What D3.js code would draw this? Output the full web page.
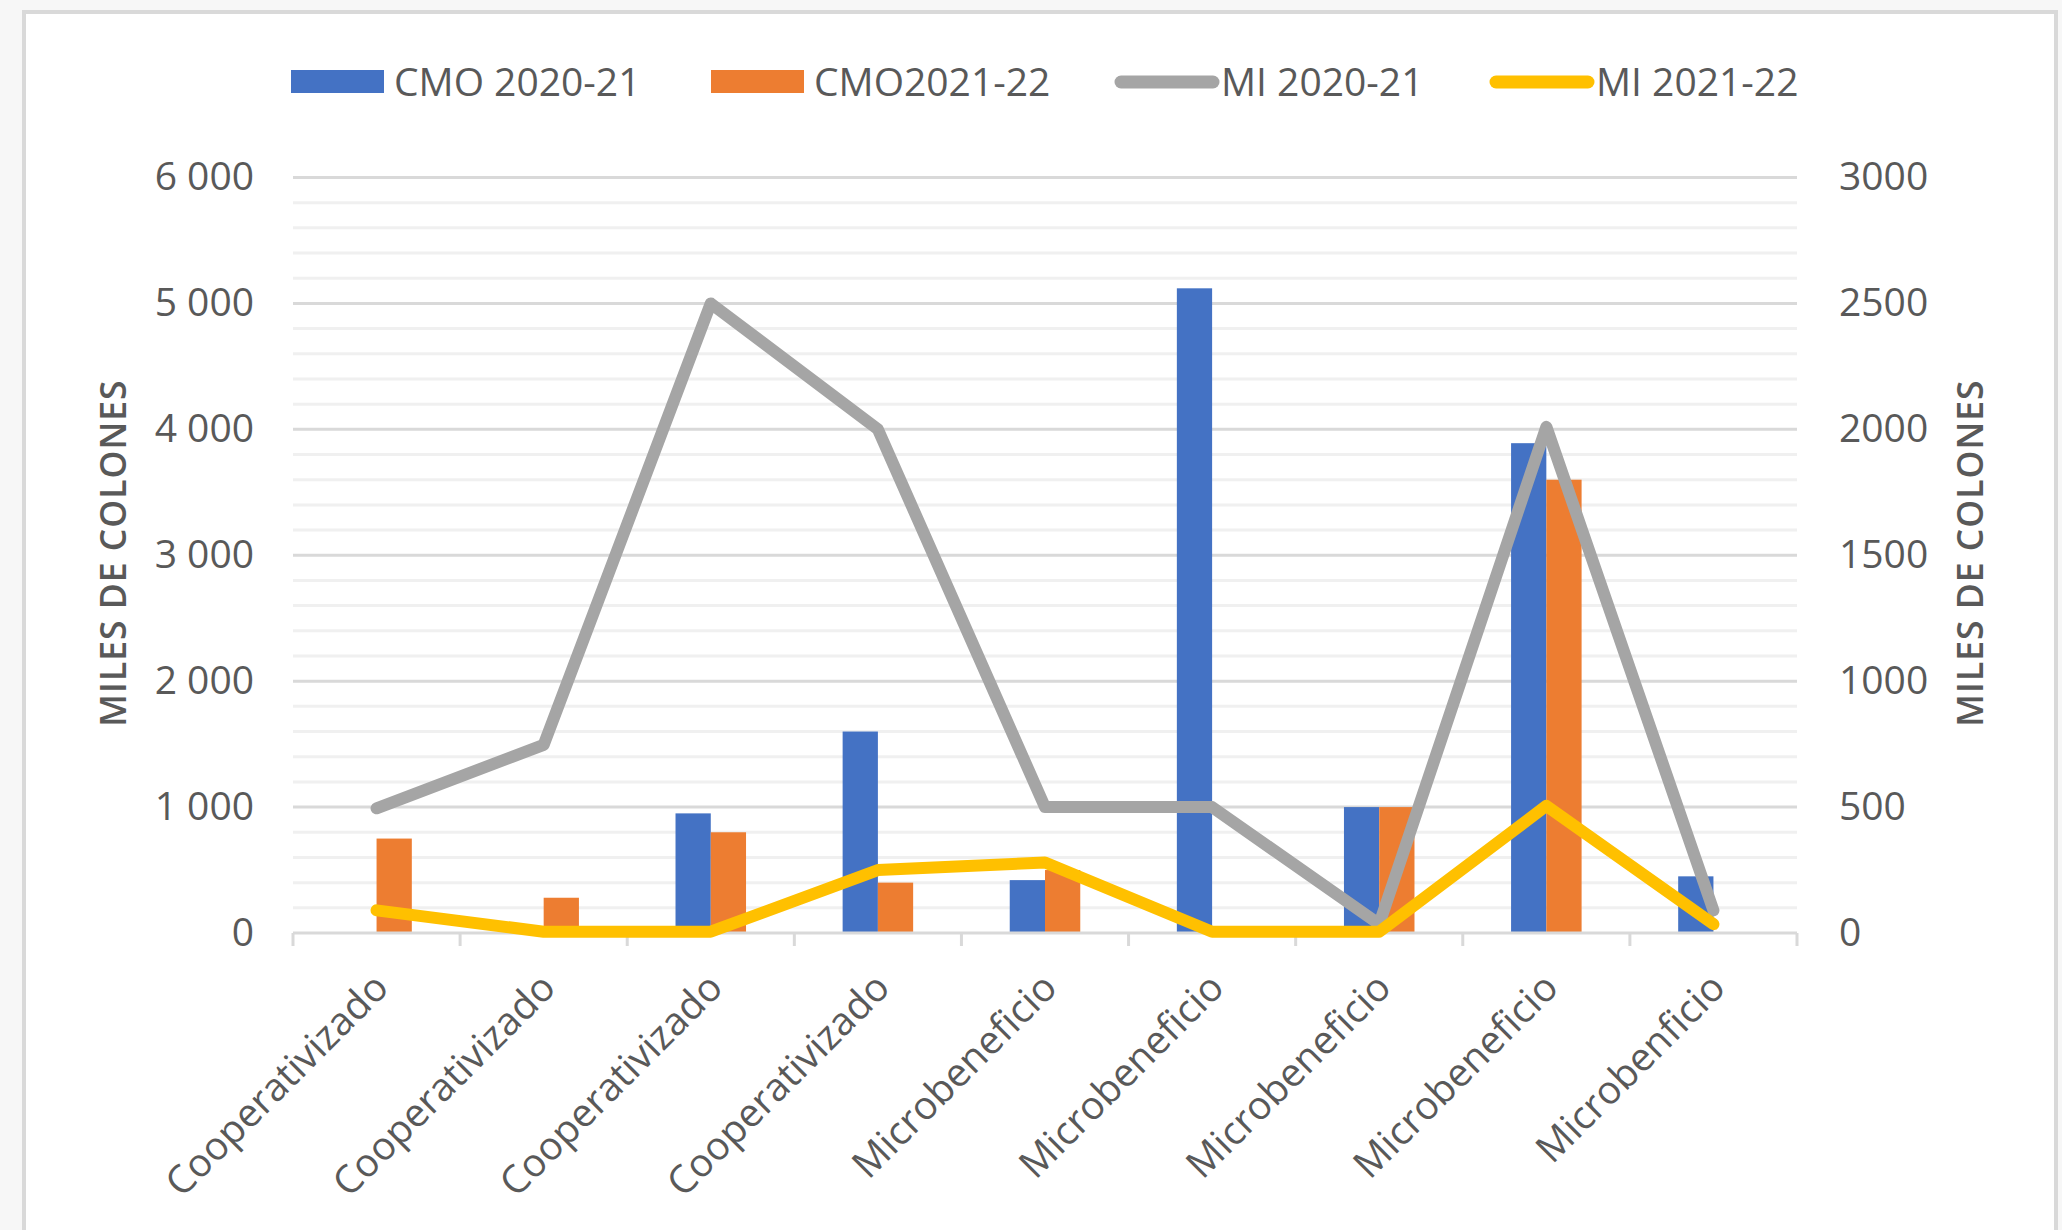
<!DOCTYPE html>
<html>
<head>
<meta charset="utf-8">
<script src="https://cdn.jsdelivr.net/npm/d3@7"></script>
<style>
  body { margin: 0; background: #f7f7f7; }
  svg { display: block; font-family: "Open Sans", sans-serif; }
</style>
</head>
<body>
<div id="chart-container"></div>
<script>
// data
const categories = [
  "Cooperativizado", "Cooperativizado", "Cooperativizado", "Cooperativizado",
  "Microbeneficio", "Microbeneficio", "Microbeneficio", "Microbeneficio",
  "Microbenficio",
];
const seriesNames = ["CMO 2020-21", "CMO2021-22", "MI 2020-21", "MI 2021-22"];
const cmo2021 = [0, 0, 950, 1600, 420, 5120, 1000, 3890, 450];
const cmo2122 = [750, 280, 800, 400, 500, 0, 1000, 3600, 0];
const mi2021 = [495, 747, 2500, 2000, 500, 500, 35, 2010, 90];
const mi2122 = [90, 5, 5, 250, 280, 5, 5, 505, 35];
const leftTicks = [0, 1000, 2000, 3000, 4000, 5000, 6000];
const rightTicks = [0, 500, 1000, 1500, 2000, 2500, 3000];
const axisTitle = "MILES DE COLONES";

const colors = ["#4472C4", "#ED7D31", "#A5A5A5", "#FFC000"];
const textColor = "#595959";
const fontSize = 39;

// dimensions
const width = 2062;
const height = 1230;
const plot = { left: 293, right: 1797, top: 177.5, bottom: 933 };

// scales
const x = d3
  .scaleBand()
  .domain(categories.map((d, i) => i))
  .range([plot.left, plot.right]);

const yLeft = d3.scaleLinear().domain([0, 6000]).range([plot.bottom, plot.top]);
const yRight = d3.scaleLinear().domain([0, 3000]).range([plot.bottom, plot.top]);

const barWidth = x.bandwidth() * 0.211;
const center = (i) => x(i) + x.bandwidth() / 2;

const locale = d3.formatLocale({ decimal: ",", thousands: " ", grouping: [3] });
const fmtLeft = locale.format(",d");

const svg = d3
  .select("#chart-container")
  .append("svg")
  .attr("width", width)
  .attr("height", height)
  .attr("viewBox", [0, 0, width, height]);

// chart frame
svg
  .append("rect")
  .attr("x", 24)
  .attr("y", 12)
  .attr("width", 2032)
  .attr("height", 1240)
  .attr("fill", "#fff")
  .attr("stroke", "#d9d9d9")
  .attr("stroke-width", 4);

// minor gridlines (every 200)
svg
  .append("g")
  .selectAll("line")
  .data(yLeft.ticks(30).filter((d) => d % 1000 !== 0))
  .join("line")
  .attr("x1", plot.left)
  .attr("x2", plot.right)
  .attr("y1", (d) => yLeft(d))
  .attr("y2", (d) => yLeft(d))
  .attr("stroke", "#f0f0f0")
  .attr("stroke-width", 3);

// major gridlines
svg
  .append("g")
  .selectAll("line")
  .data(leftTicks.filter((d) => d > 0))
  .join("line")
  .attr("x1", plot.left)
  .attr("x2", plot.right)
  .attr("y1", (d) => yLeft(d))
  .attr("y2", (d) => yLeft(d))
  .attr("stroke", "#d9d9d9")
  .attr("stroke-width", 3);

// bars
svg
  .append("g")
  .selectAll("rect")
  .data(cmo2021)
  .join("rect")
  .attr("x", (d, i) => center(i) - barWidth)
  .attr("y", (d) => yLeft(d))
  .attr("width", barWidth)
  .attr("height", (d) => yLeft(0) - yLeft(d))
  .attr("fill", colors[0]);

svg
  .append("g")
  .selectAll("rect")
  .data(cmo2122)
  .join("rect")
  .attr("x", (d, i) => center(i))
  .attr("y", (d) => yLeft(d))
  .attr("width", barWidth)
  .attr("height", (d) => yLeft(0) - yLeft(d))
  .attr("fill", colors[1]);

// x axis line and boundary ticks
svg
  .append("line")
  .attr("x1", plot.left)
  .attr("x2", plot.right)
  .attr("y1", plot.bottom)
  .attr("y2", plot.bottom)
  .attr("stroke", "#d9d9d9")
  .attr("stroke-width", 3);

svg
  .append("g")
  .selectAll("line")
  .data(categories.map((d, i) => x(i)).concat([plot.right]))
  .join("line")
  .attr("x1", (d) => d)
  .attr("x2", (d) => d)
  .attr("y1", plot.bottom)
  .attr("y2", plot.bottom + 13)
  .attr("stroke", "#d9d9d9")
  .attr("stroke-width", 3);

// lines on the secondary axis
const line = d3
  .line()
  .x((d, i) => center(i))
  .y((d) => yRight(d));

[mi2021, mi2122].forEach((series, k) => {
  svg
    .append("path")
    .attr("fill", "none")
    .attr("stroke", colors[2 + k])
    .attr("stroke-width", 12)
    .attr("stroke-linejoin", "round")
    .attr("stroke-linecap", "round")
    .attr("d", line(series));
});

// left axis labels
svg
  .append("g")
  .attr("transform", `translate(${plot.left - 39},0)`)
  .call(d3.axisLeft(yLeft).tickValues(leftTicks).tickFormat(fmtLeft).tickSize(0).tickPadding(0))
  .call((g) => g.select(".domain").remove())
  .call((g) =>
    g.selectAll("text").attr("fill", textColor).attr("font-size", fontSize).attr("font-family", "Open Sans")
  );

// right axis labels
svg
  .append("g")
  .attr("transform", `translate(${plot.right + 42},0)`)
  .call(d3.axisRight(yRight).tickValues(rightTicks).tickFormat(d3.format("d")).tickSize(0).tickPadding(0))
  .call((g) => g.select(".domain").remove())
  .call((g) =>
    g.selectAll("text").attr("fill", textColor).attr("font-size", fontSize).attr("font-family", "Open Sans")
  );

// category labels
svg
  .append("g")
  .attr("transform", `translate(0,${plot.bottom})`)
  .call(d3.axisBottom(x).tickFormat((i) => categories[i]).tickSize(0))
  .call((g) => g.select(".domain").remove())
  .call((g) => g.selectAll(".tick line").remove())
  .call((g) =>
    g
      .selectAll("text")
      .attr("fill", textColor)
      .attr("font-size", fontSize)
      .attr("font-family", "Open Sans")
      .attr("text-anchor", "end")
      .attr("y", 0)
      .attr("dy", 0)
      .attr("transform", "translate(14,57) rotate(-45)")
  );

// axis titles
[126, 1983].forEach((tx) => {
  svg
    .append("text")
    .attr("transform", `translate(${tx},553) rotate(-90)`)
    .attr("text-anchor", "middle")
    .attr("fill", textColor)
    .attr("font-size", 35.5)
    .attr("font-weight", 600)
    .attr("letter-spacing", 1)
    .text(axisTitle);
});

// legend
const legendX = [291, 711, 1115, 1490];
const legendY = 82;
const legend = svg
  .append("g")
  .selectAll("g")
  .data(seriesNames)
  .join("g")
  .attr("transform", (d, i) => `translate(${legendX[i]},${legendY})`);

legend
  .filter((d, i) => i < 2)
  .append("rect")
  .attr("x", 0)
  .attr("y", -12)
  .attr("width", 93)
  .attr("height", 23)
  .attr("fill", (d, i) => colors[i]);

legend
  .filter((d, i) => i >= 2)
  .append("line")
  .attr("x1", 6)
  .attr("x2", 98)
  .attr("stroke", (d, i) => colors[2 + i])
  .attr("stroke-width", 13)
  .attr("stroke-linecap", "round");

legend
  .append("text")
  .attr("x", (d, i) => (i < 2 ? 103 : 106))
  .attr("dy", "0.36em")
  .attr("fill", textColor)
  .attr("font-size", fontSize)
  .text((d) => d);
</script>
</body>
</html>
